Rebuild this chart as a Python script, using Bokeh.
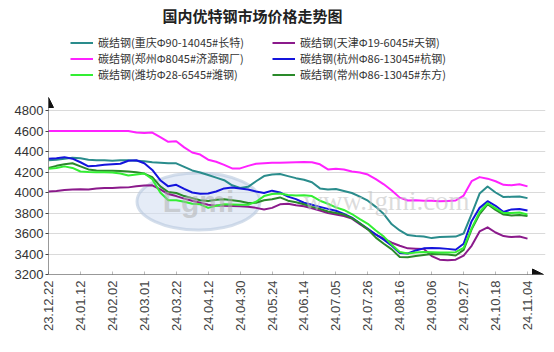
import math
from bokeh.plotting import figure
from bokeh.models import (Range1d, FixedTicker, Legend, LegendItem, Label,
                          Arrow, NormalHead)
from bokeh.embed import file_html
from bokeh.resources import INLINE

# ---------------- data ----------------
tick_labels = ["23.12.22", "24.01.12", "24.02.02", "24.03.01", "24.03.22",
               "24.04.12", "24.04.30", "24.05.24", "24.06.14", "24.07.05",
               "24.07.26", "24.08.16", "24.09.06", "24.09.27", "24.10.18",
               "24.11.04"]
points_per_tick = 4

chongqing = [4315, 4320, 4330, 4340, 4335, 4320, 4315, 4315, 4310, 4315,
             4315, 4310, 4305, 4295, 4290, 4285, 4285, 4250, 4215, 4195,
             4170, 4145, 4120, 4070, 4045, 4055, 4110, 4160, 4175, 4180,
             4160, 4140, 4125, 4100, 4040, 4030, 4035, 4015, 3995, 3960,
             3920, 3860, 3790, 3690, 3630, 3585, 3575, 3570, 3555, 3565,
             3568, 3570, 3600, 3790, 3990, 4058, 4000, 3955, 3958, 3960, 3945]
tianjin = [4010, 4015, 4025, 4030, 4032, 4030, 4040, 4045, 4045, 4048,
           4050, 4060, 4068, 4070, 4030, 3985, 3965, 3940, 3920, 3900,
           3880, 3872, 3870, 3868, 3865, 3860, 3850, 3835, 3850, 3885,
           3890, 3875, 3865, 3845, 3825, 3800, 3785, 3770, 3745, 3690,
           3640, 3590, 3550, 3510, 3480, 3455, 3452, 3450, 3380, 3345,
           3338, 3345, 3385, 3480, 3620, 3660, 3610, 3575, 3565, 3570, 3550]
zhengzhou = [4600, 4600, 4600, 4600, 4600, 4600, 4600, 4600, 4600, 4600,
             4600, 4585, 4580, 4585, 4540, 4495, 4500, 4440, 4390, 4370,
             4320, 4300, 4270, 4235, 4235, 4260, 4280, 4285, 4290, 4290,
             4292, 4295, 4298, 4296, 4275, 4225, 4232, 4225, 4205, 4195,
             4175, 4130, 4080, 4020, 3950, 3922, 3925, 3920, 3920, 3915,
             3918, 3922, 3970, 4110, 4150, 4135, 4110, 4075, 4070, 4080, 4060]
hangzhou = [4330, 4335, 4345, 4330, 4295, 4255, 4260, 4270, 4275, 4280,
            4310, 4315, 4285, 4220, 4120, 4060, 4075, 4035, 4000, 3988,
            3990, 4010, 4040, 4048, 4040, 4030, 4010, 3995, 4018, 4000,
            3960, 3935, 3900, 3880, 3860, 3840, 3822, 3790, 3755, 3700,
            3645, 3590, 3540, 3480, 3410, 3405, 3435, 3455, 3458, 3455,
            3450, 3442, 3500, 3720, 3850, 3915, 3870, 3810, 3835, 3840, 3825]
weifang = [4232, 4240, 4255, 4240, 4205, 4200, 4198, 4198, 4195, 4185,
           4165, 4175, 4185, 4130, 4000, 3925, 3925, 3910, 3890, 3885,
           3850, 3870, 3885, 3882, 3880, 3880, 3910, 3965, 3985, 3990,
           3975, 3970, 3972, 3965, 3920, 3890, 3855, 3830, 3790, 3740,
           3695, 3630, 3570, 3490, 3420, 3405, 3415, 3420, 3418, 3415,
           3415, 3418, 3460, 3650, 3810, 3895, 3845, 3800, 3800, 3805, 3785]
changzhou = [4240, 4260, 4275, 4285, 4255, 4225, 4215, 4212, 4212, 4210,
             4205, 4198, 4185, 4150, 4060, 4005, 3995, 3965, 3945, 3925,
             3918, 3930, 3935, 3925, 3915, 3898, 3900, 3925, 3935, 3952,
             3920, 3905, 3885, 3860, 3840, 3815, 3800, 3785, 3750, 3700,
             3640, 3560, 3500, 3445, 3370, 3368, 3380, 3390, 3400, 3398,
             3395, 3385, 3440, 3640, 3790, 3885, 3830, 3785, 3775, 3780, 3770]

y_ticks = [3200, 3400, 3600, 3800, 4000, 4200, 4400, 4600, 4800]

names = ["碳结钢(重庆Φ90-14045#长特)", "碳结钢(郑州Φ8045#济源钢厂)",
         "碳结钢(潍坊Φ28-6545#潍钢)", "碳结钢(天津Φ19-6045#天钢)",
         "碳结钢(杭州Φ86-13045#杭钢)", "碳结钢(常州Φ86-13045#东方)"]
colors = ["#2a8c8c", "#ff22ff", "#33ee33", "#8b1a8b", "#1414dc", "#2a8a2a"]
series = [chongqing, zhengzhou, weifang, tianjin, hangzhou, changzhou]

# ---------------- layout ----------------
W, H = 554, 352
left, right, top, bottom = 48, 9, 0, 78
frame_h = H - top - bottom
px_per_unit_y = 164.0 / 1600.0
n = len(chongqing)
x = list(range(n))
last_x = n - 1
px_per_unit_x = (527 - 48) / last_x
x_end = (W - right - left) / px_per_unit_x
y_end = 3200 + frame_h / px_per_unit_y

p = figure(width=W, height=H, output_backend="svg", toolbar_location=None,
           x_range=Range1d(0, x_end), y_range=Range1d(3200, y_end),
           min_border_left=left, min_border_right=right,
           min_border_top=top, min_border_bottom=bottom)
p.title = None
p.outline_line_color = None
p.background_fill_color = "white"
p.border_fill_color = "white"

# grid
p.xgrid.visible = False
p.ygrid.ticker = FixedTicker(ticks=y_ticks)
p.ygrid.grid_line_color = "#dadada"
p.ygrid.grid_line_width = 1

# axes
p.yaxis.ticker = FixedTicker(ticks=y_ticks)
p.yaxis.axis_line_color = None
p.yaxis.major_tick_out = 3
p.yaxis.major_tick_in = 0
p.yaxis.minor_tick_line_color = None
p.yaxis.major_tick_line_color = "#444444"
p.yaxis.major_label_standoff = 2
p.yaxis.major_label_text_font = "Liberation Sans"
p.yaxis.major_label_text_font_size = "13px"
p.yaxis.major_label_text_color = "#333333"

xt = list(range(0, n, points_per_tick))
p.xaxis.ticker = FixedTicker(ticks=xt)
p.xaxis.major_label_overrides = {t: lab for t, lab in zip(xt, tick_labels)}
p.xaxis.axis_line_color = None
p.xaxis.major_tick_in = 3
p.xaxis.major_tick_out = 0
p.xaxis.major_tick_line_color = "#bbbbbb"
p.xaxis.minor_tick_line_color = None
p.xaxis.major_label_orientation = math.pi / 2
p.xaxis.major_label_standoff = 6
p.xaxis.major_label_text_font = "Liberation Sans"
p.xaxis.major_label_text_font_size = "13px"
p.xaxis.major_label_text_color = "#444444"

# watermark
wx = (198 - left) / px_per_unit_x
wy = 3200 + (274 - 201) / px_per_unit_y
p.ellipse(x=[wx], y=[wy], width=123, height=57, width_units="screen",
          height_units="screen", fill_color="#d3e0f1", fill_alpha=0.6,
          line_color="#b8c8de", line_alpha=0.6, line_width=3)
p.add_layout(Label(x=198 - left, y=274 - 201, x_units="screen", y_units="screen",
                   text="Lgmi", text_align="center", text_baseline="middle",
                   text_font="Liberation Sans", text_font_style="bold",
                   text_font_size="30px", text_color="#b0b0b0", text_alpha=0.55))
p.add_layout(Label(x=386 - left, y=274 - 200, x_units="screen", y_units="screen",
                   text="www.lgmi.com", text_align="center", text_baseline="middle",
                   text_font="Liberation Serif", text_font_size="27px",
                   text_color="#c4c4c4", text_alpha=0.6))

# lines (draw order)
renderers = {}
order = [3, 0, 1, 4, 5, 2]
for i in order:
    r = p.line(x, series[i], line_color=colors[i], line_width=2,
               line_join="round")
    renderers[i] = r

# axes lines with arrows
p.add_layout(Arrow(end=NormalHead(size=10, fill_color="#111111", line_color="#111111"),
                   x_start=0, y_start=3200, x_end=0,
                   y_end=4800 + 13 / px_per_unit_y,
                   line_color="#333333", line_width=1))
p.add_layout(Arrow(end=NormalHead(size=11, fill_color="#111111", line_color="#111111"),
                   x_start=0, y_start=3200, x_end=(543 - left) / px_per_unit_x,
                   y_end=3200, line_color="#333333", line_width=1))

# title
p.add_layout(Label(x=252 - left, y=frame_h - 15, x_units="screen", y_units="screen",
                   text="国内优特钢市场价格走势图", text_align="center",
                   text_baseline="middle", text_font="Noto Sans CJK SC",
                   text_font_style="bold", text_font_size="15px",
                   text_color="#222222"))

# legends (two columns)
def make_legend(idx, vx):
    lg = Legend(items=[LegendItem(label=names[i], renderers=[renderers[i]]) for i in idx],
                location=(vx, frame_h - 82), orientation="vertical",
                glyph_width=23, glyph_height=15, label_height=15,
                label_standoff=5, spacing=0, padding=0, margin=0,
                label_text_font="Noto Sans CJK SC", label_text_font_size="11px",
                label_text_color="#333333", background_fill_alpha=0,
                border_line_color=None)
    p.add_layout(lg, "center")

make_legend([0, 1, 2], 70 - left)
make_legend([3, 4, 5], 272 - left)

open("out.html", "w").write(file_html(p, INLINE))
